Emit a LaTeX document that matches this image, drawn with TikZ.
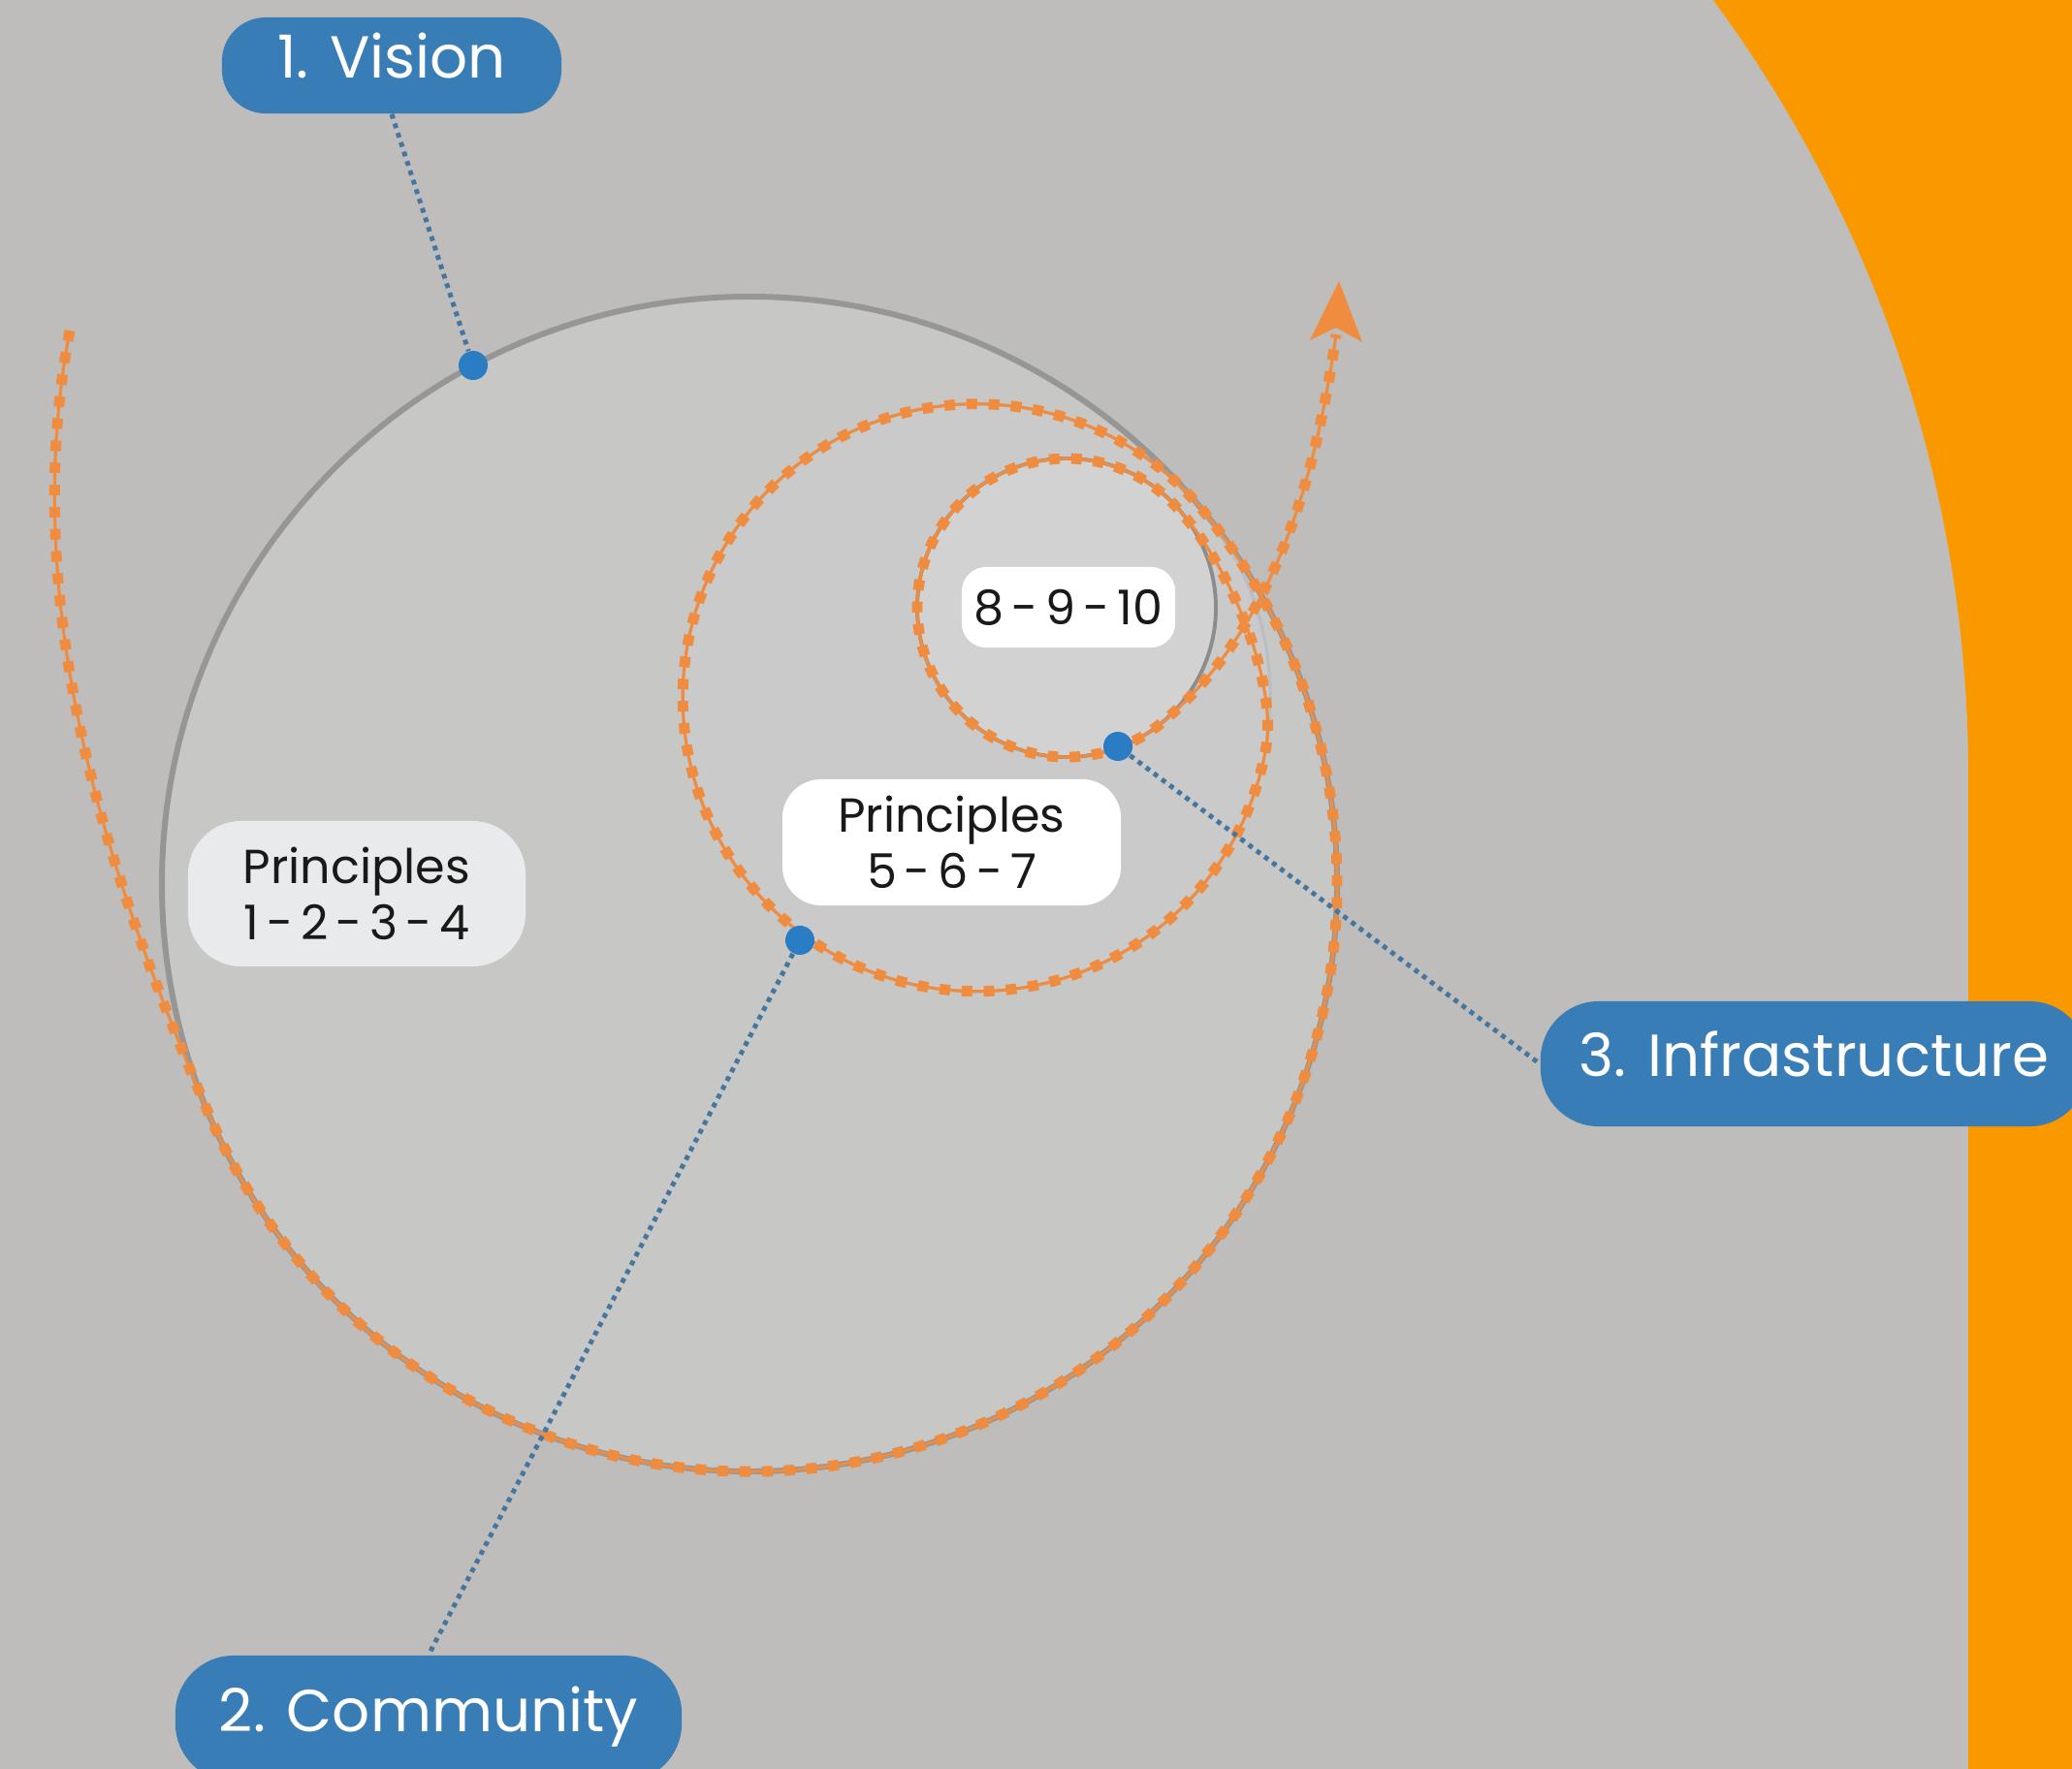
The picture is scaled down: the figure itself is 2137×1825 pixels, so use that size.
\documentclass[tikz,border=0pt]{standalone}
\usepackage{fontspec}
\setmainfont{Poppins}
\definecolor{bg}{RGB}{190,189,187}
\definecolor{orng}{RGB}{250,152,0}
\definecolor{bigfill}{RGB}{199,199,198}
\definecolor{bigline}{RGB}{150,150,150}
\definecolor{medfill}{RGB}{202,202,202}
\definecolor{medline}{RGB}{186,190,195}
\definecolor{smallfill}{RGB}{210,210,210}
\definecolor{smallline}{RGB}{140,140,140}
\definecolor{spor}{RGB}{240,140,64}
\definecolor{boxblue}{RGB}{57,125,182}
\definecolor{dotblue}{RGB}{42,125,195}
\definecolor{connblue}{RGB}{68,118,160}
\definecolor{lightbox}{RGB}{233,234,235}
\definecolor{textblack}{RGB}{25,25,25}
\newcommand\hsep{\hspace{0.16em}-\hspace{0.16em}}
\begin{document}
\begin{tikzpicture}[x=0.01cm,y=0.01cm,
  lbl/.style={fill=boxblue, text=white, inner sep=0pt,
    font=\fontsize{17.4}{21}\selectfont, text height=0.76em, text depth=0em},
  plbl/.style={text=textblack, inner sep=0pt, font=\fontsize{14}{16.5}\selectfont},
  dot/.style={circle, fill=dotblue, minimum size=0.3cm, inner sep=0pt},
  conn/.style={draw=connblue, line width=1.4pt, dash pattern=on 1.4pt off 1.5pt},
  spiral/.style={draw=spor, line width=0.9pt,
    postaction={draw=spor, line width=3.1pt, dash pattern=on 3.1pt off 3.4pt}}]
\useasboundingbox (0,0) rectangle (2137,-1825);
\fill[bg] (0,0) rectangle (2137,-1825);
\fill[orng] (1767,0) arc[start angle=36.4, end angle=0, radius=1348]
  -- (2030,-1825) -- (2137,-1825) -- (2137,0) -- cycle;
% circles
\fill[bigfill] (773,-912) circle[radius=606];
\fill[medfill] (1007.2,-719.7) circle[radius=303];
\fill[smallfill] (1100,-627) circle[radius=154];
\draw[bigline, line width=1.7pt] (773,-912) circle[radius=606];
\draw[medline, line width=0.9pt] (1007.2,-719.7) circle[radius=303];
\draw[smallline, line width=1.1pt] (1100,-627) circle[radius=154];
% spiral
\draw[spiral] (72,-341) .. controls (15,-640) and (125,-937) .. (215.2,-1148.8)
  arc[start angle=203, end angle=399.4, radius=606]
  arc[start angle=39.4, end angle=350, radius=303]
  .. controls (1319.5,-693.5) and (1253.8,-546.8) .. (1188.3,-500.9)
  arc[start angle=55, end angle=310, radius=154]
  .. controls (1313.9,-648.6) and (1357,-493.5) .. (1378,-345);
\fill[spor] (1381,-290) -- (1351,-351) -- (1378,-338) -- (1405,-353) -- cycle;
% labels
\node[lbl, minimum width=3.5cm, minimum height=0.99cm, rounded corners=0.45cm] (vision) at (404,-67.5) {1. Vision};
\node[lbl, minimum width=5.22cm, minimum height=1.30cm, rounded corners=0.6cm] (comm) at (442,-1773) {2. Community};
\node[lbl, minimum width=5.64cm, minimum height=1.29cm, rounded corners=0.6cm] (infra) at (1871,-1097.5) {3. Infrastructure};
\node[plbl, fill=white, minimum width=2.2cm, minimum height=0.83cm, rounded corners=0.25cm] (p810) at (1102,-626.5) {8\hsep 9\hsep 10};
\node[plbl, fill=white, minimum width=3.49cm, minimum height=1.30cm, rounded corners=0.4cm, align=center] (p567) at (981.5,-869) {Principles\\5\hsep 6\hsep 7};
\node[plbl, fill=lightbox, minimum width=3.48cm, minimum height=1.50cm, rounded corners=0.55cm, align=center] (p1234) at (368,-922) {Principles\\1\hsep 2\hsep 3\hsep 4};
% dots
\node[dot] (vd) at (488,-377) {};
\node[dot] (cd) at (825,-970) {};
\node[dot] (id) at (1153,-770) {};
% connectors
\draw[conn] (vision.south) -- (vd);
\draw[conn] (cd) -- (comm.north);
\draw[conn] (id) -- (infra.west);
\end{tikzpicture}
\end{document}
